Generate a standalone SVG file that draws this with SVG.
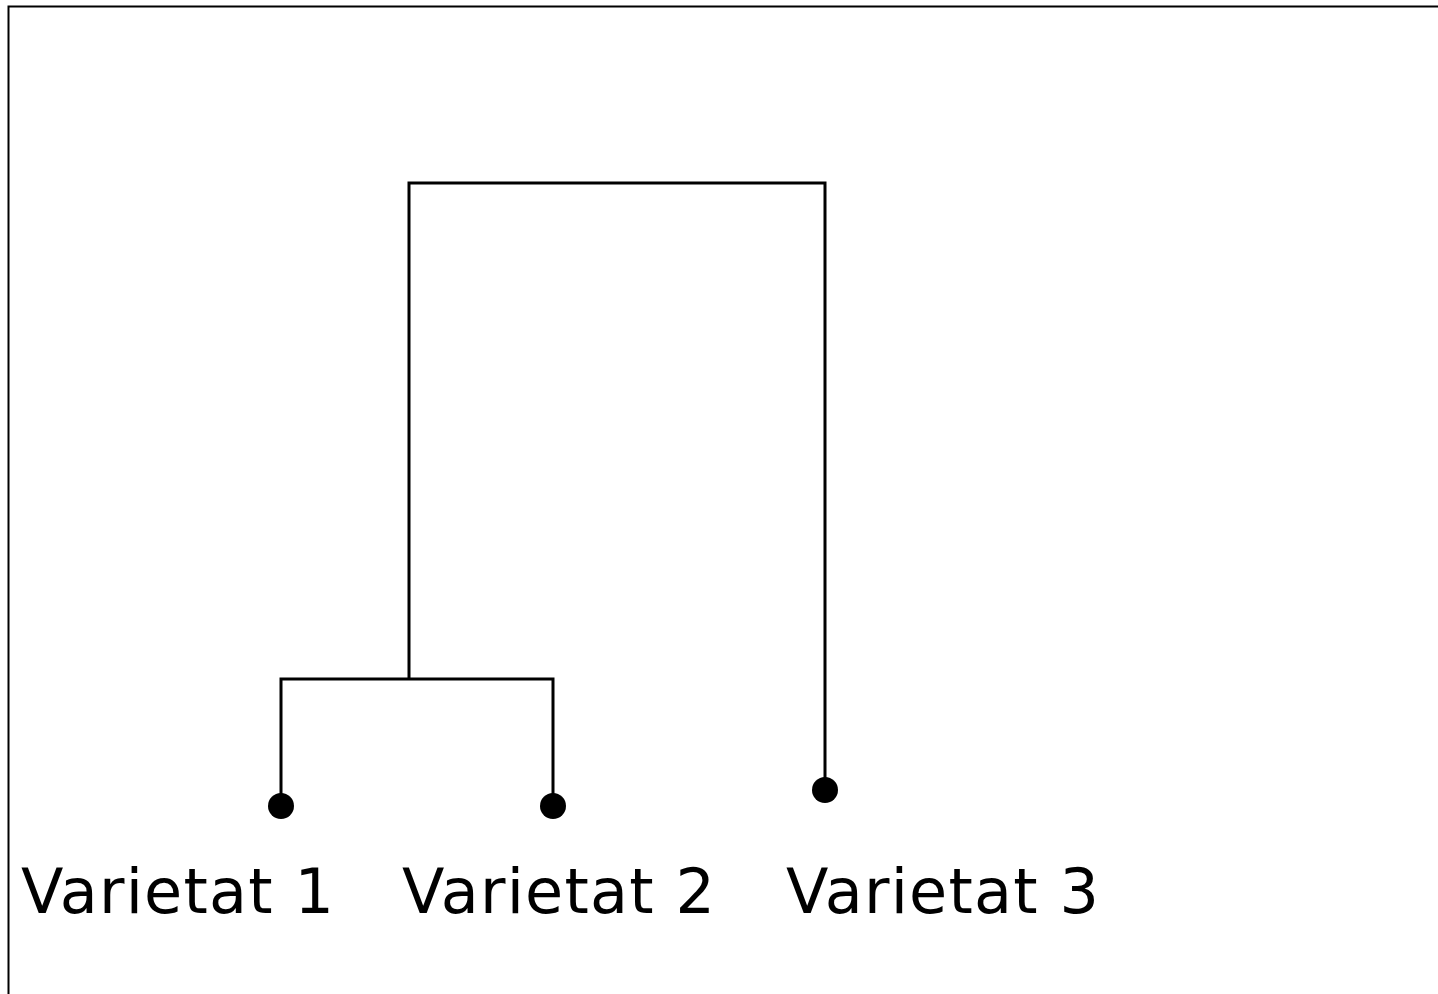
<svg xmlns="http://www.w3.org/2000/svg" width="1438" height="994" viewBox="0 0 1438 994">
<style>
.ln{fill:none;stroke:#000;stroke-width:3}
.dot{fill:#000}
.lbl{font-family:"DejaVu Sans",Verdana,sans-serif;font-size:62px;fill:#000;letter-spacing:1.2px}
</style>
<rect x="0" y="0" width="1438" height="994" fill="#fff"/>
<rect x="8.5" y="6.5" width="1440" height="1000" fill="none" stroke="#000" stroke-width="2"/>
<g id="connectors">
<path class="ln" d="M409,679 V183 H825 V790"/>
<path class="ln" d="M281,806 V679 H553 V806"/>
</g>
<g id="node-v1"><circle class="dot" cx="281" cy="806" r="13"/><text class="lbl" x="21" y="913">Varietat 1</text></g>
<g id="node-v2"><circle class="dot" cx="553" cy="806" r="13"/><text class="lbl" x="402" y="913">Varietat 2</text></g>
<g id="node-v3"><circle class="dot" cx="825" cy="790" r="13"/><text class="lbl" x="786" y="913">Varietat 3</text></g>
</svg>
